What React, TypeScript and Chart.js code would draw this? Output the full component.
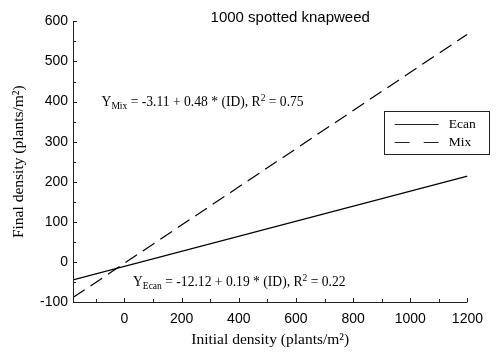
import React, { useEffect, useRef } from "react";
import { Chart, registerables } from "chart.js";

Chart.register(...registerables);

const chartTitle = "1000 spotted knapweed";
const seriesNames = ["Ecan", "Mix"];
const xEnds = [-180, 1200];
const ecanValues = [-45, 214];
const mixValues = [-89, 568];
const xTickValues = [0, 200, 400, 600, 800, 1000, 1200];
const xMinorTicks = [-100, 100, 300, 500, 700, 900, 1100];
const yMinorTicks = [-50, 50, 150, 250, 350, 450, 550];
const mixEquation = [
  { t: "Y", sub: false },
  { t: "Mix", sub: true },
  { t: " = -3.11 + 0.48 * (ID), R", sub: false },
  { t: "2", sup: true },
  { t: " = 0.75", sub: false },
];
const ecanEquation = [
  { t: "Y", sub: false },
  { t: "Ecan", sub: true },
  { t: " = -12.12 + 0.19 * (ID), R", sub: false },
  { t: "2", sup: true },
  { t: " = 0.22", sub: false },
];

const SERIF = "'Liberation Serif', 'Times New Roman', serif";
const SANS = "'Liberation Sans', Arial, sans-serif";

function drawRich(ctx: CanvasRenderingContext2D, parts: any[], x: number, y: number, size: number) {
  let cx = x;
  ctx.textBaseline = "alphabetic";
  ctx.textAlign = "left";
  for (const p of parts) {
    let fs = size;
    let dy = 0;
    if (p.sub) { fs = size * 0.7; dy = 3; }
    if (p.sup) { fs = size * 0.7; dy = -5; }
    ctx.font = `${fs}px ${SERIF}`;
    ctx.fillText(p.t, cx, y + dy);
    cx += ctx.measureText(p.t).width;
  }
}

const decorPlugin = {
  id: "decor",
  afterDatasetsDraw(chart: any) {
    const ctx = chart.ctx as CanvasRenderingContext2D;
    const xs = chart.scales.x;
    const ys = chart.scales.y;
    const { left, right, top, bottom } = chart.chartArea;
    ctx.save();
    ctx.strokeStyle = "#222";
    ctx.fillStyle = "#000";
    ctx.lineWidth = 1;
    // axes
    ctx.beginPath();
    ctx.moveTo(left + 0.5, top);
    ctx.lineTo(left + 0.5, bottom + 0.5);
    ctx.lineTo(right, bottom + 0.5);
    ctx.stroke();
    // x ticks (inward)
    ctx.beginPath();
    for (const v of xTickValues) {
      const px = Math.round(xs.getPixelForValue(v)) + 0.5;
      ctx.moveTo(px, bottom);
      ctx.lineTo(px, bottom - 4);
    }
    for (const v of xMinorTicks) {
      const px = Math.round(xs.getPixelForValue(v)) + 0.5;
      ctx.moveTo(px, bottom);
      ctx.lineTo(px, bottom - 3);
    }
    // y ticks
    for (const t of ys.ticks) {
      const py = Math.round(ys.getPixelForValue(t.value)) + 0.5;
      ctx.moveTo(left, py);
      ctx.lineTo(left + 4, py);
    }
    for (const v of yMinorTicks) {
      const py = Math.round(ys.getPixelForValue(v)) + 0.5;
      ctx.moveTo(left, py);
      ctx.lineTo(left + 3, py);
    }
    ctx.stroke();

    // title
    ctx.font = `15px ${SANS}`;
    ctx.textAlign = "center";
    ctx.textBaseline = "middle";
    ctx.fillText(chartTitle, xs.getPixelForValue(580), 10);

    // equations
    drawRich(ctx, mixEquation, xs.getPixelForValue(-80), ys.getPixelForValue(400) + 4, 13.6);
    drawRich(ctx, ecanEquation, xs.getPixelForValue(30), ys.getPixelForValue(-50) + 4, 13.6);

    // legend
    const bx = xs.getPixelForValue(907);
    const by = ys.getPixelForValue(377);
    const bw = 105;
    const bh = 43;
    ctx.strokeStyle = "#222";
    ctx.lineWidth = 1;
    ctx.strokeRect(Math.round(bx) + 0.5, Math.round(by) + 0.5, bw, bh);
    const dsets = chart.data.datasets;
    ctx.font = `13.5px ${SERIF}`;
    ctx.textAlign = "left";
    ctx.textBaseline = "middle";
    dsets.forEach((ds: any, i: number) => {
      const ly = Math.round(by) + 13.5 + i * 18;
      ctx.beginPath();
      ctx.setLineDash(ds.borderDash ? [15, 14] : []);
      ctx.lineWidth = 1.2;
      ctx.moveTo(bx + 11, ly);
      ctx.lineTo(bx + 55, ly);
      ctx.stroke();
      ctx.setLineDash([]);
      ctx.fillText(ds.label, bx + 65, ly);
    });
    ctx.restore();
  },
};

export default function App() {
  const ref = useRef<HTMLCanvasElement>(null);
  useEffect(() => {
    if (!ref.current) return;
    const chart = new Chart(ref.current, {
      type: "line",
      data: {
        datasets: [
          {
            label: seriesNames[0],
            data: xEnds.map((x, i) => ({ x, y: ecanValues[i] })),
            borderColor: "#000",
            borderWidth: 1.2,
            pointRadius: 0,
            fill: false,
          },
          {
            label: seriesNames[1],
            data: xEnds.map((x, i) => ({ x, y: mixValues[i] })),
            borderColor: "#000",
            borderWidth: 1.2,
            borderDash: [14, 7],
            pointRadius: 0,
            fill: false,
          },
        ],
      },
      plugins: [decorPlugin],
      options: {
        animation: false,
        responsive: true,
        maintainAspectRatio: false,
        layout: { padding: { top: 7, right: 5, left: 0, bottom: 0 } },
        plugins: { legend: { display: false }, tooltip: { enabled: false }, title: { display: false } },
        scales: {
          x: {
            type: "linear",
            min: xEnds[0],
            max: xEnds[1],
            afterFit: (s: any) => { s.height = 47; },
            afterBuildTicks: (s: any) => { s.ticks = xTickValues.map((v) => ({ value: v })); },
            grid: { display: false, drawTicks: false },
            border: { display: false },
            ticks: {
              color: "#000",
              font: { family: SANS, size: 14 },
              padding: 9,
              maxRotation: 0,
              autoSkip: false,
              callback: (v: any) => String(v),
            },
            title: {
              display: true,
              text: "Initial density (plants/m²)",
              color: "#000",
              font: { family: SERIF, size: 15.5 },
              padding: { top: 0, bottom: 0 },
            },
          },
          y: {
            min: -100,
            max: 600,
            afterFit: (s: any) => { s.width = 65; },
            grid: { display: false, drawTicks: false },
            border: { display: false },
            ticks: {
              stepSize: 100,
              color: "#000",
              font: { family: SANS, size: 14 },
              padding: 5,
              callback: (v: any) => String(v),
            },
            title: {
              display: true,
              text: "Final density (plants/m²)",
              color: "#000",
              font: { family: SERIF, size: 15.5 },
              padding: { top: 2, bottom: 0 },
            },
          },
        },
      },
    });
    return () => chart.destroy();
  }, []);
  return (
    <div style={{ width: 484, height: 341, position: "relative" }}>
      <canvas ref={ref} />
    </div>
  );
}
